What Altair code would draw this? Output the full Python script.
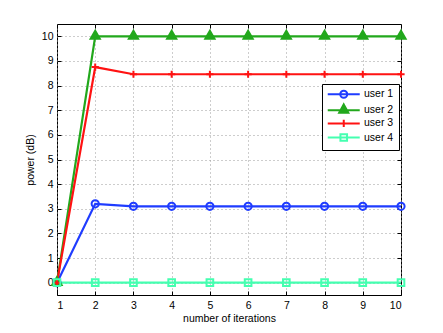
import altair as alt
import pandas as pd

iterations = [1, 2, 3, 4, 5, 6, 7, 8, 9, 10]
users = ["user 1", "user 2", "user 3", "user 4"]
user1 = [0, 3.2, 3.1, 3.1, 3.1, 3.1, 3.1, 3.1, 3.1, 3.1]
user2 = [0, 10, 10, 10, 10, 10, 10, 10, 10, 10]
user3 = [0, 8.75, 8.46, 8.46, 8.46, 8.46, 8.46, 8.46, 8.46, 8.46]
user4 = [0, 0, 0, 0, 0, 0, 0, 0, 0, 0]
y_ticks = [0, 1, 2, 3, 4, 5, 6, 7, 8, 9, 10]

colors = ["#1f3cff", "#22a81c", "#ff1212", "#44ffb0"]
fills = ["transparent", "#22a81c", "transparent", "transparent"]

rows = []
for u, vals in zip(users, [user1, user2, user3, user4]):
    for it, v in zip(iterations, vals):
        rows.append({"iteration": it, "power": v, "user": u})
df = pd.DataFrame(rows)

FONT = "Liberation Sans"


def circle(r):
    return f"M{-r},0A{r},{r} 0 1,0 {r},0A{r},{r} 0 1,0 {-r},0"


def tri(w, top, bot):
    return f"M0,{top}L{w},{bot}L{-w},{bot}Z"


def square(h):
    return f"M{-h},{-h}H{h}V{h}H{-h}Z"


def plus(h):
    return f"M{-h},0H{h}M0,{-h}V{h}"


def sc(v, u):
    return round(v / u, 3)


# data markers (size 64 -> 4px per unit)
marker_paths = [circle(0.9), tri(1.15, -1.4, 0.6), plus(0.9), square(0.83)]

# legend symbols (size 49 -> 3.5px per unit), line segment + marker
U = 3.5
L = sc(16, U)
line_seg = f"M{-L},0H{L}"
cy = sc(-1.8, U)
nested = "".join(
    tri(sc(4.6, U) * s, round(cy + (sc(-6, U) - cy) * s, 3), round(cy + (sc(2.5, U) - cy) * s, 3))
    for s in [1, 0.6, 0.25]
)
legend_paths = [
    line_seg + circle(sc(3.5, U)),
    line_seg + nested,
    line_seg + plus(sc(3.6, U)),
    line_seg + square(sc(3.3, U)),
]

x_main = alt.X(
    "iteration:Q",
    scale=alt.Scale(domain=[1, 10], nice=False, zero=False),
    axis=alt.Axis(values=iterations, title="number of iterations", titlePadding=3,
                  labelPadding=5, grid=True, ticks=False),
)
y_main = alt.Y(
    "power:Q",
    scale=alt.Scale(domain=[-0.5, 10.5], nice=False, zero=False),
    axis=alt.Axis(values=y_ticks, title="power (dB)", titlePadding=6, labelPadding=4,
                  grid=True, ticks=False),
)


def tick_axis(orient, vals):
    return alt.Axis(orient=orient, values=vals, offset=-4, labels=False, title=None,
                    grid=False, domain=False, ticks=True, tickSize=4,
                    tickColor="black", tickWidth=1)


x_in_b = alt.X("iteration:Q", axis=tick_axis("bottom", iterations))
y_in_l = alt.Y("power:Q", axis=tick_axis("left", y_ticks))
x_in_t = alt.X("iteration:Q", axis=tick_axis("top", iterations))
y_in_r = alt.Y("power:Q", axis=tick_axis("right", y_ticks))

color_scale = alt.Scale(domain=users, range=colors)

lines = alt.Chart(df).mark_line(strokeWidth=2.2).encode(
    x=x_main, y=y_main, color=alt.Color("user:N", scale=color_scale, legend=None)
)

points = alt.Chart(df).mark_point(filled=False, strokeWidth=2, opacity=1, size=64).encode(
    x=x_in_b,
    y=y_in_l,
    color=alt.Color("user:N", scale=color_scale, legend=None),
    shape=alt.Shape("user:N", scale=alt.Scale(domain=users, range=marker_paths), legend=None),
    fill=alt.Fill("user:N", scale=alt.Scale(domain=users, range=fills), legend=None),
)

leg = alt.Legend(
    title=None,
    orient="none",
    legendX=265,
    legendY=60,
    padding=5,
    strokeColor="black",
    fillColor="white",
    cornerRadius=0,
    symbolSize=49,
    symbolStrokeWidth=2,
    symbolOffset=11.5,
    labelOffset=15,
    rowPadding=-1.9,
    labelFont=FONT,
    labelFontSize=10.5,
    labelColor="black",
)

legend_layer = alt.Chart(df).transform_filter("false").mark_point(
    filled=False, strokeWidth=2, opacity=1
).encode(
    x=x_in_t,
    y=y_in_r,
    color=alt.Color("user:N", scale=color_scale, legend=leg),
    shape=alt.Shape("user:N", scale=alt.Scale(domain=users, range=legend_paths), legend=leg),
)

chart = (
    alt.layer(lines, points, legend_layer)
    .resolve_scale(color="independent", shape="independent")
    .resolve_axis(x="independent", y="independent")
    .properties(
        width=344,
        height=271,
        autosize=alt.AutoSizeParams(type="none"),
        padding={"left": 49, "top": 16, "right": 20, "bottom": 30},
        background="white",
    )
    .configure_view(stroke="black", strokeWidth=1)
    .configure_axis(
        gridColor="#9a9a9a",
        gridDash=[1, 3],
        gridWidth=1,
        gridOpacity=1,
        domain=False,
        labelFont=FONT,
        labelFontSize=10.5,
        labelColor="black",
        titleFont=FONT,
        titleFontSize=10.5,
        titleFontWeight="normal",
        titleColor="black",
    )
)

chart.save("out.html", embed_options={"renderer": "svg", "actions": False})
